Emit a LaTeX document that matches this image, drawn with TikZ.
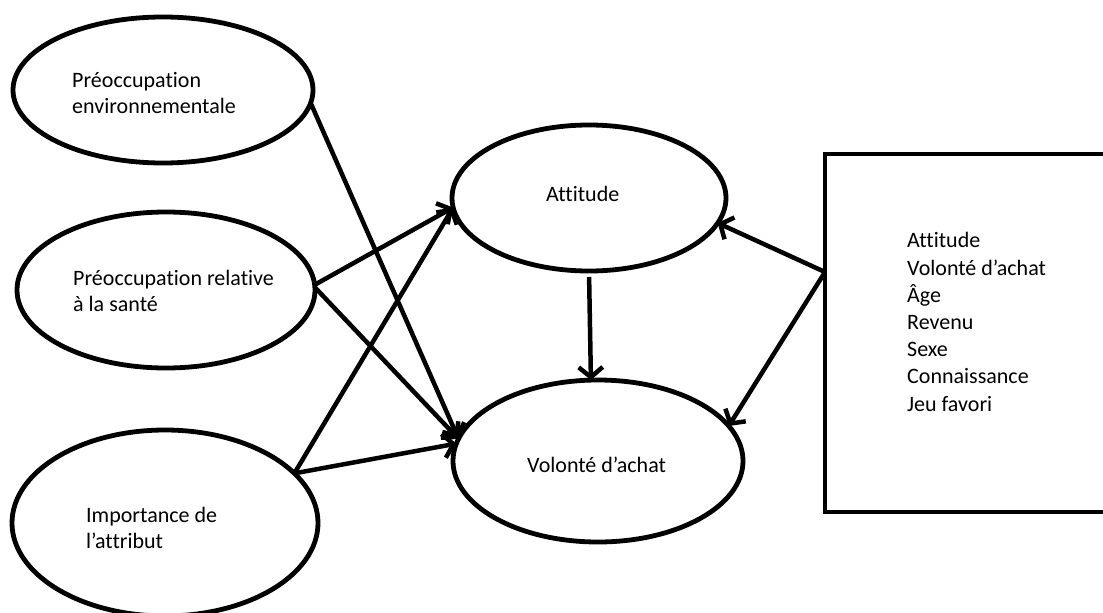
\documentclass[tikz,border=0pt]{standalone}
\usepackage{fontspec}
\setmainfont{Carlito}[Ligatures=NoCommon]
\usetikzlibrary{shapes.geometric,arrows.meta}
\begin{document}
\begin{tikzpicture}[x=1pt,y=-1pt,
  oval/.style={draw,ellipse,line width=4.8pt,inner sep=0pt,outer sep=0pt},
  lbl/.style={anchor=base west,align=left,inner sep=0pt,font=\fontsize{22}{26.5}\selectfont},
  conn/.style={line width=4.5pt,-{Straight Barb[length=10pt,width=24pt]}}]
\clip (0,0) rectangle (1103,613);
% ellipses
\node[oval,minimum width=300pt,minimum height=146pt] (e1) at (163,90) {};
\node[oval,minimum width=298pt,minimum height=156pt] (e2) at (166,290) {};
\node[oval,minimum width=306pt,minimum height=186pt] (e3) at (165,523) {};
\node[oval,minimum width=274pt,minimum height=146pt] (att) at (589,198) {};
\node[oval,minimum width=290pt,minimum height=162pt] (vol) at (598,461) {};
\node[draw,line width=4.8pt,inner sep=0pt,outer sep=0pt,minimum width=305pt,minimum height=358pt] (box) at (977.5,333) {};
% texts (anchor on the baseline of the last line)
\node[lbl] (t1) at (72,113.5) {Préoccupation\\environnementale};
\node[lbl] (t2) at (73,311.5) {Préoccupation relative\\à la santé};
\node[lbl] (t3) at (86,548.5) {Importance de\\l’attribut};
\node[lbl] (tatt) at (546,201) {Attitude};
\node[lbl] (tvol) at (527,472) {Volonté d’achat};
\node[lbl,font=\fontsize{22}{27.2}\selectfont] (tbox) at (907,411) {Attitude\\Volonté d’achat\\Âge\\Revenu\\Sexe\\Connaissance\\Jeu favori};
% connectors
\coordinate (bx) at (825,272);
\draw[conn] (e1.-5) -- (vol.171);
\draw[conn] (e2.2) -- (att.184);
\draw[conn] (e2.1) -- (vol.171);
\draw[conn] (e3.21) -- (att.184);
\draw[conn] (e3.21) -- (vol.173);
\draw[conn,shorten <=6pt] (att.270) -- (vol.95);
\draw[conn] (bx) -- (att.-11);
\draw[conn] (bx) -- (vol.15);
\end{tikzpicture}
\end{document}
